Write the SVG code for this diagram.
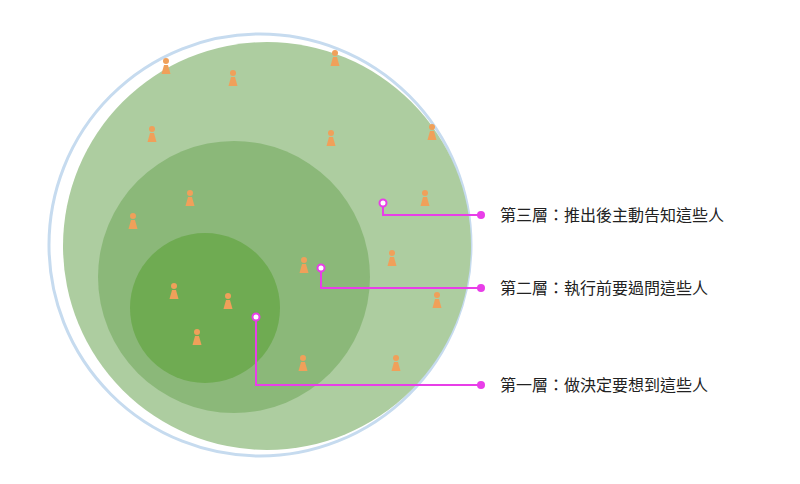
<svg xmlns="http://www.w3.org/2000/svg" width="800" height="484" viewBox="0 0 800 484">
<style>
.lbl{font-family:"Noto Sans CJK TC","Noto Sans CJK SC",sans-serif;font-size:16px;fill:#222}
.ln{fill:none;stroke:#e83ee8;stroke-width:2}
.end{fill:#e83ee8}
.st{fill:#fff;stroke:#e83ee8;stroke-width:2}
</style>
<defs>
<g id="p" fill="#f0a05a"><circle cx="0" cy="-5" r="3"/><path d="M-2,-1 L2,-1 L4.5,8 L-4.5,8 Z"/></g>
</defs>
<g id="outer"><circle cx="260" cy="245" r="211" fill="#fff" stroke="#c6dbef" stroke-width="3"/></g>
<g id="layer3"><circle cx="267" cy="246" r="204" fill="#adcda0"/></g>
<g id="layer2"><circle cx="234" cy="277" r="136" fill="#8bb879"/></g>
<g id="layer1"><circle cx="205" cy="308" r="75" fill="#6fab52"/></g>
<g id="people">
<use href="#p" x="166" y="66"/><use href="#p" x="233" y="78"/><use href="#p" x="335" y="58"/>
<use href="#p" x="152" y="134"/><use href="#p" x="331" y="138"/><use href="#p" x="432" y="132"/>
<use href="#p" x="190" y="198"/><use href="#p" x="133" y="221"/><use href="#p" x="425" y="198"/>
<use href="#p" x="304" y="265"/><use href="#p" x="392" y="258"/><use href="#p" x="437" y="300"/>
<use href="#p" x="174" y="291"/><use href="#p" x="228" y="301"/><use href="#p" x="197" y="337"/>
<use href="#p" x="303" y="363"/><use href="#p" x="396" y="363"/>
</g>
<g id="connectors">
<path class="ln" d="M383,207 V215 H481"/><circle class="st" cx="383" cy="203" r="3.5"/><circle class="end" cx="481" cy="215" r="4"/>
<path class="ln" d="M321,272 V288 H481"/><circle class="st" cx="321" cy="268" r="3.5"/><circle class="end" cx="481" cy="288" r="4"/>
<path class="ln" d="M256,321 V385 H481"/><circle class="st" cx="256" cy="317" r="3.5"/><circle class="end" cx="481" cy="385" r="4"/>
</g>
<g id="labels">
<text class="lbl" x="500" y="221">第三層：推出後主動告知這些人</text>
<text class="lbl" x="500" y="294">第二層：執行前要過問這些人</text>
<text class="lbl" x="500" y="391">第一層：做決定要想到這些人</text>
</g>
</svg>
